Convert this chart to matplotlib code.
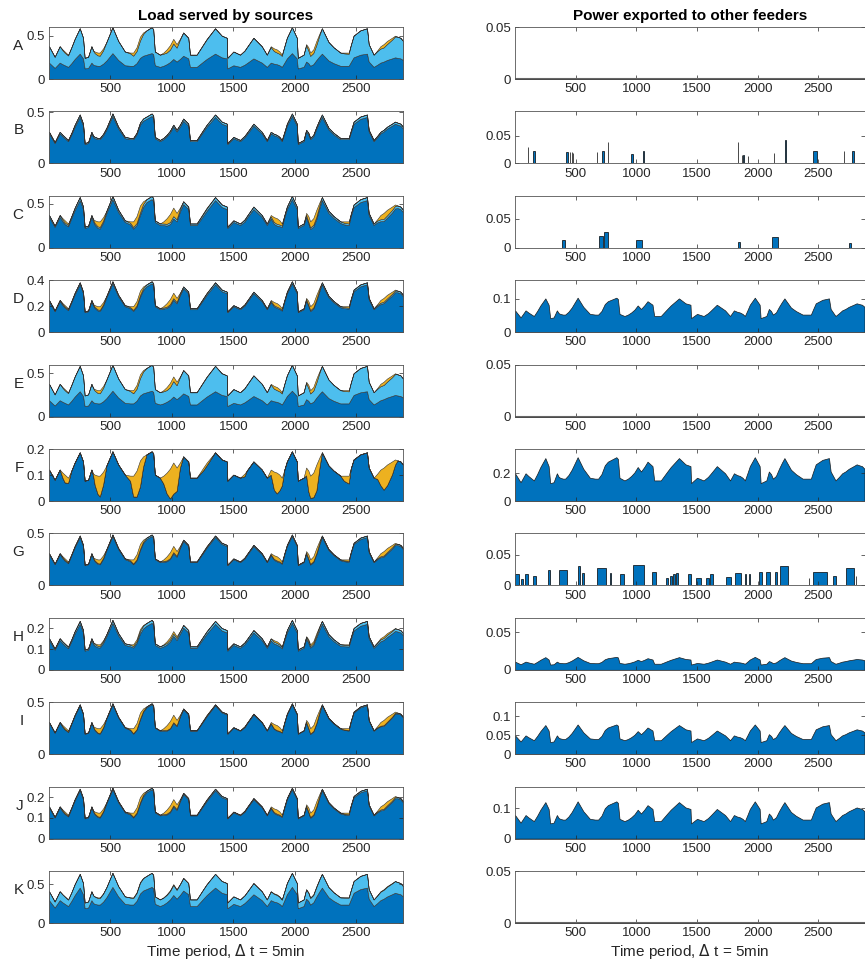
import numpy as np
import matplotlib.pyplot as plt
from matplotlib.ticker import FuncFormatter

plt.rcParams['font.family'] = ['Liberation Sans', 'DejaVu Sans']

t_pts = [0, 46, 87, 110, 128, 155, 182, 209, 250, 277, 290, 318, 345, 360, 372,
         395, 413, 440, 467, 516, 563, 617, 660, 685, 712, 740, 765, 793, 835,
         848, 861, 902, 930, 957, 984, 1011, 1038, 1065, 1092, 1133, 1147,
         1201, 1255, 1283, 1351, 1405, 1446, 1451, 1500, 1554, 1590, 1609,
         1663, 1731, 1772, 1804, 1830, 1853, 1875, 1894, 1915, 1935, 1976,
         2016, 2024, 2071, 2092, 2110, 2125, 2150, 2175, 2200, 2220, 2274,
         2315, 2370, 2400, 2438, 2455, 2478, 2533, 2587, 2601, 2641, 2670,
         2696, 2722, 2750, 2790, 2815, 2835, 2859, 2880]

# load profile (read from feeder B, other feeders follow the same shape)
load_shape = [0.31, 0.21, 0.31, 0.28, 0.26, 0.23, 0.30, 0.38, 0.48, 0.39, 0.20,
              0.21, 0.31, 0.27, 0.26, 0.25, 0.25, 0.29, 0.35, 0.49, 0.36, 0.26,
              0.25, 0.25, 0.30, 0.40, 0.44, 0.46, 0.49, 0.47, 0.26, 0.23, 0.25,
              0.28, 0.32, 0.38, 0.33, 0.38, 0.44, 0.39, 0.23, 0.23, 0.33, 0.38,
              0.48, 0.41, 0.39, 0.20, 0.26, 0.23, 0.27, 0.30, 0.39, 0.31, 0.23,
              0.31, 0.29, 0.28, 0.26, 0.23, 0.31, 0.39, 0.49, 0.39, 0.20, 0.23,
              0.33, 0.30, 0.25, 0.28, 0.36, 0.43, 0.48, 0.35, 0.30, 0.25, 0.25,
              0.25, 0.32, 0.41, 0.46, 0.48, 0.33, 0.23, 0.27, 0.31, 0.33, 0.36,
              0.39, 0.41, 0.40, 0.39, 0.36]

# third (orange) source, in feeder F units
solar_shape = [0, 0, 0, 0.02, 0.03, 0.02, 0, 0, 0, 0, 0, 0, 0, 0.01, 0.04,
               0.07, 0.08, 0.05, 0, 0, 0, 0, 0.02, 0.08, 0.10, 0.10, 0.04, 0,
               0, 0, 0, 0, 0.03, 0.08, 0.115, 0.12, 0.09, 0.02, 0, 0, 0, 0,
               0.01, 0.01, 0, 0, 0, 0, 0, 0, 0.01, 0, 0, 0, 0, 0.02, 0.07,
               0.08, 0.06, 0.03, 0, 0, 0, 0, 0, 0, 0.03, 0.08, 0.085, 0.095,
               0.10, 0.04, 0, 0, 0, 0, 0.02, 0.03, 0, 0, 0, 0, 0, 0, 0.02,
               0.06, 0.085, 0.08, 0.05, 0.02, 0, 0, 0]

feeders = ['A', 'B', 'C', 'D', 'E', 'F', 'G', 'H', 'I', 'J', 'K']
load_scale = [1.22, 1.0, 1.2, 0.8, 1.22, 0.39, 1.0, 0.49, 1.0, 0.5, 1.32]
dark_share = [0.5, 0.95, 0.94, 0.96, 0.5, 1.0, 0.97, 0.94, 0.98, 0.97, 0.72]
solar_scale = [0.45, 0.0, 0.8, 0.35, 0.45, 1.0, 0.5, 0.1, 0.6, 0.25, 0.1]
orange_from_light = [True, False, False, False, True, False, False, False,
                     False, False, True]
left_ymax = [0.6, 0.51, 0.59, 0.4, 0.6, 0.2, 0.5, 0.25, 0.5, 0.25, 0.67]
left_yticks = [[0, 0.5], [0, 0.5], [0, 0.5], [0, 0.2, 0.4], [0, 0.5],
               [0, 0.1, 0.2], [0, 0.5], [0, 0.1, 0.2], [0, 0.5],
               [0, 0.1, 0.2], [0, 0.5]]

# exported power: continuous feeders follow the load shape
export_scale = [0, 0, 0, 0.21, 0, 0.65, 0, 0.035, 0.16, 0.25, 0]
# spiky feeders: (start, end, height)
export_B = [(104, 107, 0.029), (151, 165, 0.023), (420, 440, 0.02),
            (453, 456, 0.02), (466, 469, 0.02), (478, 481, 0.018),
            (672, 675, 0.02), (721, 732, 0.022), (763, 766, 0.038),
            (952, 975, 0.017), (1056, 1067, 0.022), (1838, 1841, 0.038),
            (1871, 1874, 0.015), (1880, 1883, 0.015), (1920, 1923, 0.013),
            (2134, 2137, 0.019), (2227, 2230, 0.042), (2455, 2490, 0.023),
            (2707, 2710, 0.022), (2778, 2795, 0.023)]
export_C = [(385, 415, 0.013), (690, 725, 0.02), (730, 770, 0.027),
            (1000, 1050, 0.013), (1840, 1850, 0.01), (2120, 2170, 0.018),
            (2750, 2765, 0.008)]
export_G = [(0, 33, 0.018), (49, 63, 0.01), (82, 110, 0.018), (145, 170, 0.015),
            (274, 288, 0.025), (362, 425, 0.025), (521, 535, 0.032),
            (554, 568, 0.02), (672, 749, 0.028), (782, 790, 0.02),
            (864, 897, 0.018), (974, 1062, 0.033), (1133, 1160, 0.022),
            (1242, 1262, 0.012), (1275, 1290, 0.015), (1300, 1320, 0.018),
            (1330, 1344, 0.02), (1426, 1454, 0.018), (1489, 1530, 0.012),
            (1572, 1600, 0.012), (1605, 1632, 0.018), (1736, 1783, 0.013),
            (1811, 1866, 0.02), (1893, 1900, 0.018), (1925, 1934, 0.018),
            (2010, 2037, 0.022), (2071, 2098, 0.022), (2139, 2159, 0.022),
            (2180, 2250, 0.032), (2422, 2425, 0.012), (2455, 2570, 0.022),
            (2619, 2647, 0.015), (2729, 2790, 0.028), (2811, 2814, 0.015)]
export_events = {'B': export_B, 'C': export_C, 'G': export_G}
right_ymax = [0.05, 0.094, 0.09, 0.155, 0.05, 0.378, 0.085, 0.069, 0.137,
              0.171, 0.05]
right_yticks = [[0, 0.05], [0, 0.05], [0, 0.05], [0, 0.1], [0, 0.05],
                [0, 0.2], [0, 0.05], [0, 0.05], [0, 0.05, 0.1], [0, 0.1],
                [0, 0.05]]

c_dark, c_light, c_orange = '#0072BD', '#4DBEEE', '#EDB120'
axcol = '#262626'
W, H = 865, 969
t = np.array(t_pts)
shape = np.array(load_shape)
solar = np.array(solar_shape)
fmt = FuncFormatter(lambda v, p: '%g' % v)


def style(ax, ymax, yticks):
    ax.set_xlim(0, 2880)
    ax.set_ylim(0, ymax)
    ax.set_xticks([500, 1000, 1500, 2000, 2500])
    ax.set_yticks(yticks)
    ax.yaxis.set_major_formatter(fmt)
    ax.tick_params(direction='in', length=3, width=0.5, top=True, right=True,
                   labelsize=9.5, colors=axcol, pad=3)
    for s in ax.spines.values():
        s.set_color('#555555')
        s.set_linewidth(0.6)


fig = plt.figure(figsize=(W / 100, H / 100), dpi=100)

for i, name in enumerate(feeders):
    top = 27 + 84.4 * i
    bottom = 1 - (top + 52) / H

    # left: load served by the three sources
    ax = fig.add_axes([49 / W, bottom, 354 / W, 52 / H])
    total = load_scale[i] * shape
    orange = solar_scale[i] * solar
    if orange_from_light[i]:
        dark = dark_share[i] * total
        light = total - dark - orange
    else:
        light = (1 - dark_share[i]) * total
        dark = total - light - orange
    ax.stackplot(t, dark, light, orange, colors=[c_dark, c_light, c_orange],
                 edgecolor='#333333', linewidth=0.4)
    style(ax, left_ymax[i], left_yticks[i])
    ax.text(-0.072, 0.5, name, transform=ax.transAxes, ha='right',
            va='bottom', fontsize=11, color=axcol)

    # right: power exported
    ax2 = fig.add_axes([515 / W, bottom, 349.5 / W, 52 / H])
    if name in export_events:
        ev = export_events[name]
        ax2.bar([e[0] for e in ev], [e[2] for e in ev],
                width=[max(e[1] - e[0], 2) for e in ev], align='edge',
                color=c_dark, edgecolor='black', linewidth=0.5)
    else:
        exp = export_scale[i] * shape
        ax2.fill_between(t, 0, exp, color=c_dark, edgecolor='#1a1a1a',
                         linewidth=0.5)
        if export_scale[i] == 0:
            ax2.plot(t, exp, color='#666666', linewidth=1.5)
    style(ax2, right_ymax[i], right_yticks[i])

    if i == 0:
        ax.set_title('Load served by sources', fontsize=11,
                     fontweight='bold', pad=5)
        ax2.set_title('Power exported to other feeders', fontsize=11,
                      fontweight='bold', pad=5)
    if i == len(feeders) - 1:
        ax.set_xlabel('Time period, $\\Delta$ t = 5min', fontsize=11,
                      color=axcol, labelpad=2)
        ax2.set_xlabel('Time period, $\\Delta$ t = 5min', fontsize=11,
                       color=axcol, labelpad=2)

fig.savefig('out.png', dpi=100)
